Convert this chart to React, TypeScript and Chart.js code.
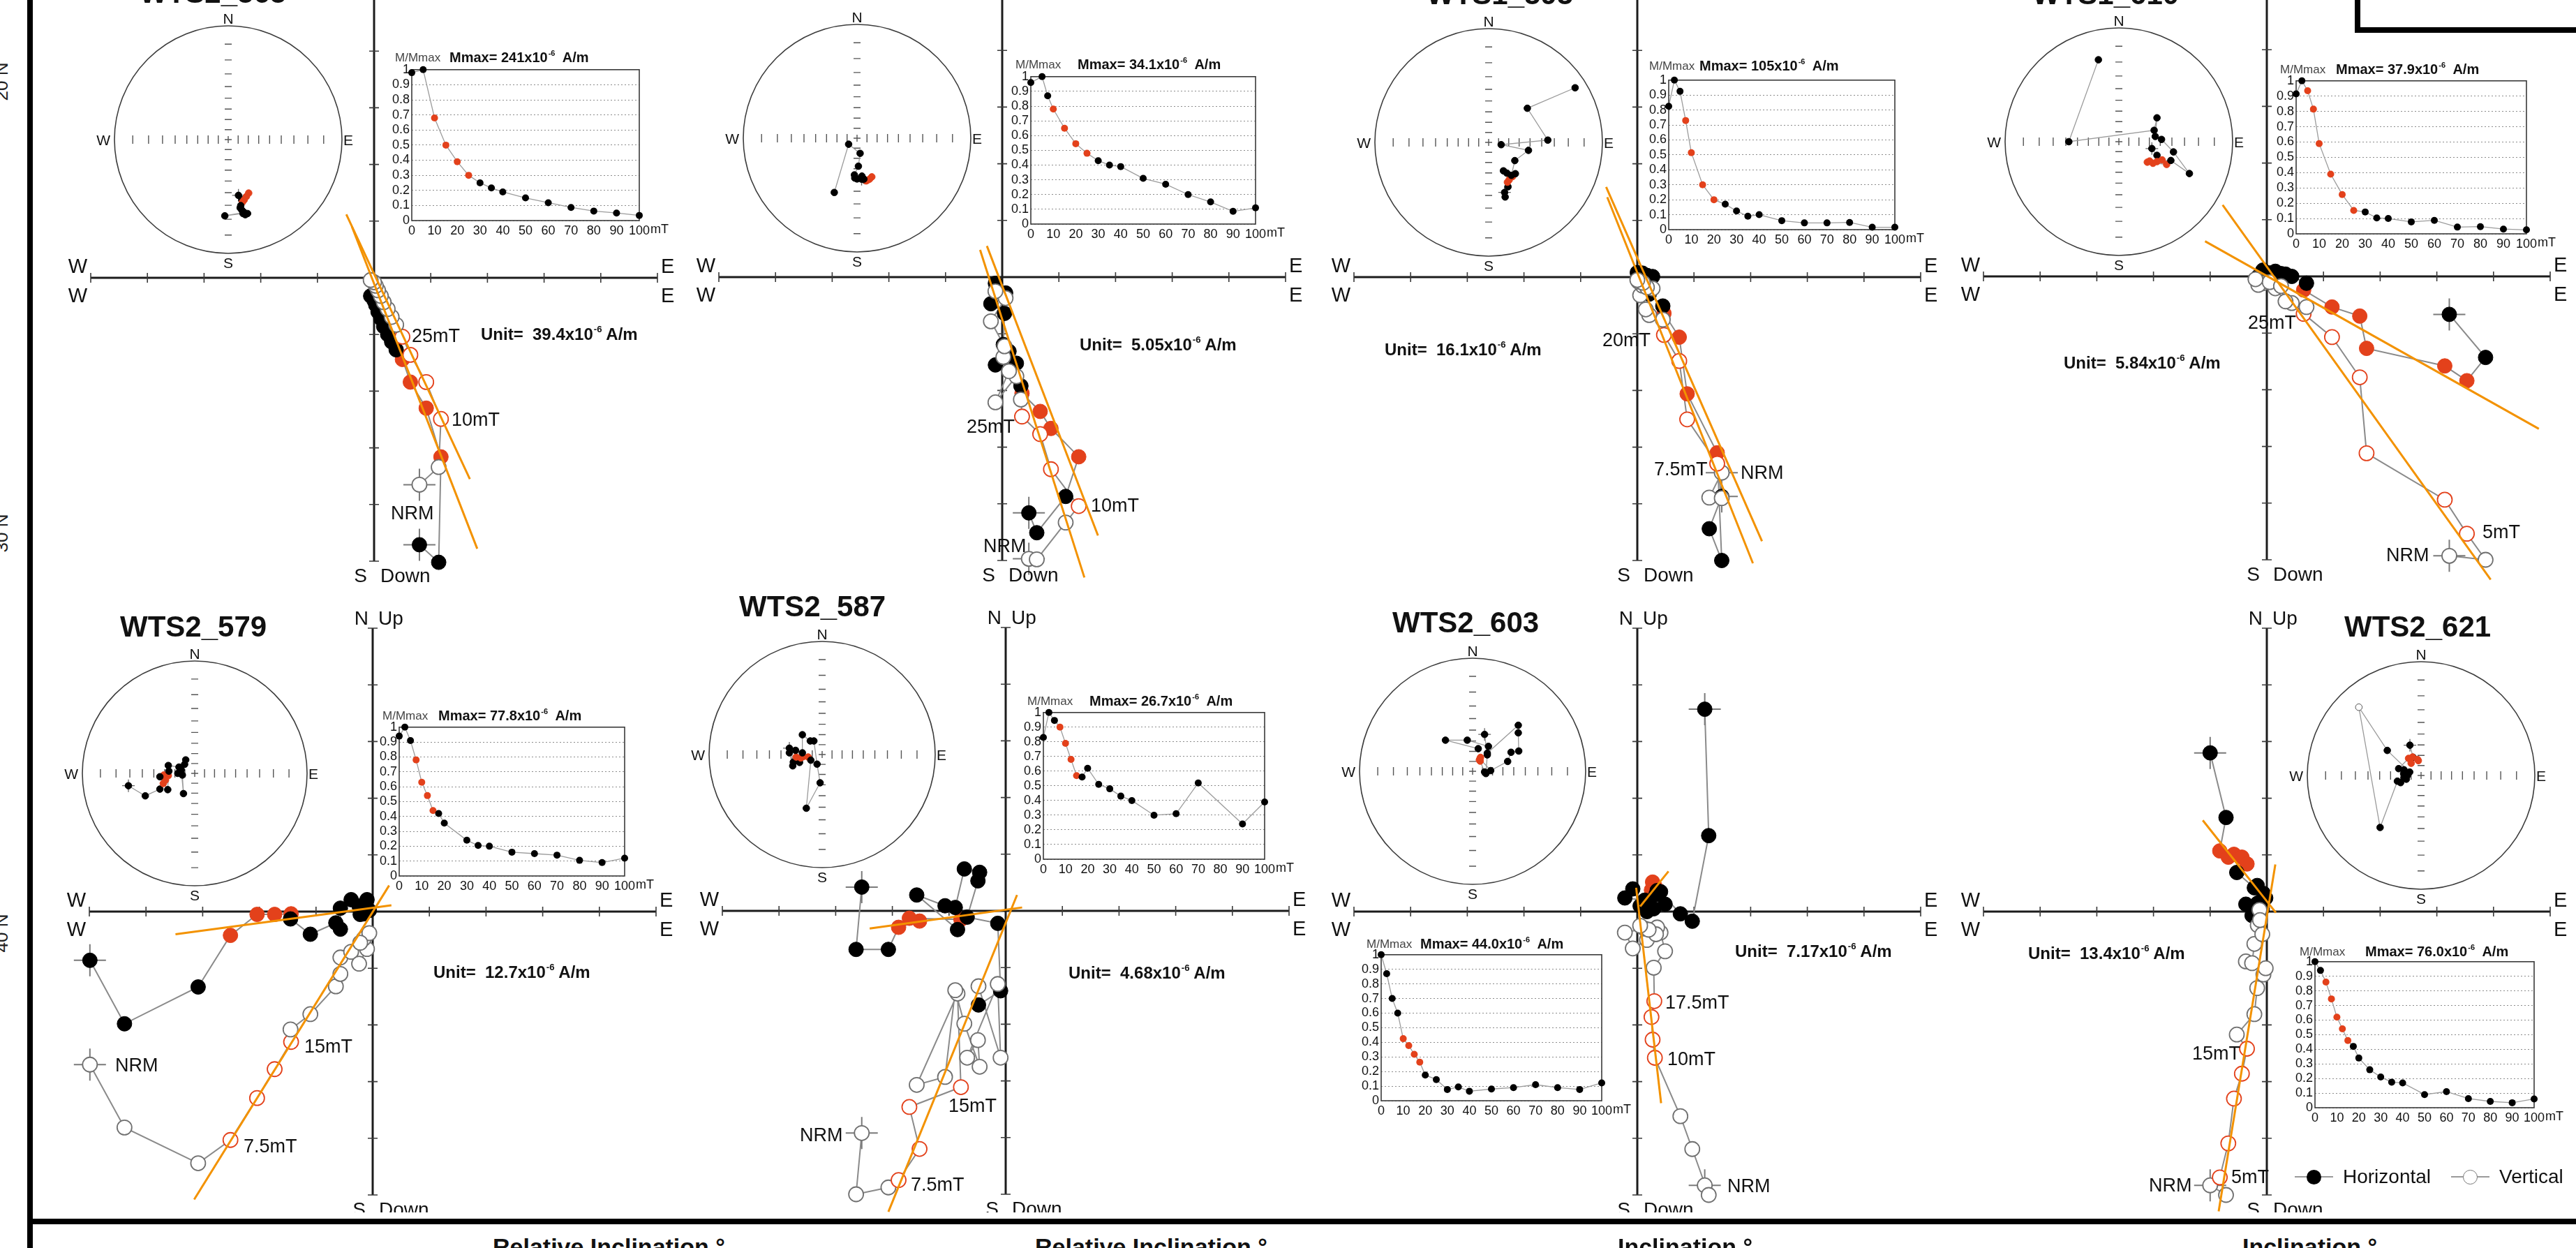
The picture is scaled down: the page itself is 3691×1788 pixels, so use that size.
import React, { useEffect, useRef } from "react";
import { Chart, registerables } from "chart.js";

Chart.register(...registerables);

const FONT = "'Liberation Sans', Arial, Helvetica, sans-serif";
const RED = "#e3411b";
const ORANGE = "#f39200";
const LINE_GRAY = "#8a8a8a";
const ZIJ_HALF = 406; // px from origin to the 5th tick mark
const ZIJ_PAD = 70;
const ST_PAD = 32;
const STEREO_TICK_INC = [80, 70, 60, 50, 40, 30, 20, 10];

/* ===================== top row, panel 1 ===================== */
const p1Steps = [0, 5, 10, 15, 20, 25, 30, 35, 40, 50, 60, 70, 80, 90, 100];
const p1Mnorm = [0.98, 1.0, 0.68, 0.5, 0.39, 0.3, 0.25, 0.216, 0.19, 0.15, 0.118, 0.087, 0.063, 0.05, 0.034];
const p1Fit = [10, 15, 20, 25];
const p1East = [0.8, 1.14, 1.18, 0.92, 0.64, 0.5, 0.39, 0.31, 0.24, 0.17, 0.12, 0.07, 0.03, 0.0, -0.06];
const p1North = [-4.71, -5.02, -3.16, -2.3, -1.84, -1.44, -1.27, -1.13, -1.0, -0.86, -0.72, -0.6, -0.48, -0.4, -0.32];
const p1Up = [-3.65, -3.34, -2.49, -1.84, -1.36, -1.04, -0.83, -0.69, -0.55, -0.43, -0.32, -0.22, -0.14, -0.08, -0.04];
const p1FitHx = [-0.39, 1.82];
const p1FitHy = [0.9, -4.78];
const p1FitVx = [-0.49, 1.69];
const p1FitVy = [1.12, -3.55];
const p1StX = [0.09, 0.12, 0.18, 0.16, 0.14, 0.125, 0.11, 0.105, 0.12, 0.14, 0.17, 0.15, 0.13, -0.03, 0.14];
const p1StY = [-0.49, -0.53, -0.47, -0.5, -0.53, -0.55, -0.58, -0.6, -0.62, -0.64, -0.65, -0.66, -0.65, -0.67, -0.64];

/* ===================== top row, panel 2 ===================== */
const p2Steps = [0, 5, 7.5, 10, 15, 20, 25, 30, 35, 40, 50, 60, 70, 80, 90, 100];
const p2Mnorm = [0.96, 1.0, 0.87, 0.78, 0.65, 0.545, 0.48, 0.43, 0.4, 0.39, 0.31, 0.27, 0.2, 0.15, 0.086, 0.11];
const p2Fit = [10, 15, 20, 25];
const p2East = [0.47, 0.61, 1.12, 1.35, 0.86, 0.67, 0.35, 0.33, 0.25, -0.12, 0.12, 0.02, 0.04, -0.2, 0.06, -0.12];
const p2North = [-4.16, -4.51, -3.87, -3.17, -2.67, -2.37, -2.05, -1.92, -1.52, -1.55, -1.31, -1.19, -0.64, -0.47, -0.28, -0.11];
const p2Up = [-4.97, -4.98, -4.33, -4.04, -3.39, -2.77, -2.46, -2.16, -1.75, -2.21, -1.66, -1.41, -1.22, -0.78, -0.37, -0.25];
const p2FitHx = [-0.27, 1.69];
const p2FitHy = [0.55, -4.56];
const p2FitVx = [-0.39, 1.45];
const p2FitVy = [0.48, -5.3];
const p2StX = [0.04, 0.05, 0.07, 0.13, 0.11, 0.08, 0.09, 0.06, 0.043, -0.02, 0.0, -0.023, 0.012, 0.027, -0.074, -0.2];
const p2StY = [-0.36, -0.35, -0.37, -0.34, -0.36, -0.375, -0.37, -0.36, -0.333, -0.35, -0.358, -0.323, -0.246, -0.133, -0.053, -0.477];

/* ===================== top row, panel 3 ===================== */
const p3Steps = [0, 2.5, 5, 7.5, 10, 15, 20, 25, 30, 35, 40, 50, 60, 70, 80, 90, 100];
const p3Mnorm = [0.825, 1.0, 0.925, 0.73, 0.515, 0.3, 0.2, 0.17, 0.125, 0.09, 0.1, 0.06, 0.045, 0.045, 0.048, 0.016, 0.016];
const p3Fit = [7.5, 10, 15, 20];
const p3East = [1.49, 1.27, 1.49, 1.41, 0.88, 0.74, 0.47, 0.45, 0.21, 0.15, 0.27, 0.05, 0.09, 0.17, 0.02, 0.1, 0.0];
const p3North = [-3.87, -4.44, -5.0, -3.1, -2.06, -1.06, -0.64, -0.51, -0.3, -0.25, 0.01, -0.05, 0.07, 0.03, 0.05, 0.02, 0.08];
const p3Up = [-3.45, -3.89, -3.9, -3.29, -2.51, -1.48, -1.02, -0.75, -0.67, -0.57, -0.2, -0.32, -0.15, -0.18, -0.08, -0.1, -0.05];
const p3FitHx = [-0.53, 2.04];
const p3FitHy = [1.41, -5.05];
const p3FitVx = [-0.55, 2.2];
const p3FitVy = [1.59, -4.66];
const p3StX = [0.14, 0.145, 0.17, 0.165, 0.18, 0.19, 0.21, 0.235, 0.16, 0.13, 0.2, 0.23, 0.35, 0.11, 0.52, 0.34, 0.76];
const p3StY = [-0.44, -0.48, -0.39, -0.35, -0.33, -0.31, -0.3, -0.275, -0.27, -0.25, -0.29, -0.16, -0.07, -0.02, 0.02, 0.3, 0.48];

/* ===================== top row, panel 4 ===================== */
const p4Steps = [0, 2.5, 5, 7.5, 10, 15, 20, 25, 30, 35, 40, 50, 60, 70, 80, 90, 100];
const p4Mnorm = [0.915, 1.0, 0.935, 0.815, 0.59, 0.39, 0.257, 0.153, 0.143, 0.104, 0.1, 0.078, 0.088, 0.044, 0.047, 0.031, 0.026];
const p4Fit = [5, 7.5, 10, 15, 20, 25];
const p4East = [3.22, 3.86, 3.53, 3.14, 1.76, 1.64, 1.15, 0.65, 0.7, 0.44, 0.33, 0.15, -0.07, -0.15, 0.05, 0.25, -0.2];
const p4North = [-0.67, -1.43, -1.84, -1.58, -1.27, -0.7, -0.54, -0.24, -0.12, 0.0, 0.04, 0.09, 0.11, 0.0, 0.06, 0.05, -0.05];
const p4Up = [-4.93, -5.0, -4.54, -3.94, -3.12, -1.78, -1.07, -0.66, -0.54, -0.47, -0.44, -0.21, -0.12, -0.15, -0.1, -0.17, -0.05];
const p4FitHx = [-1.09, 4.8];
const p4FitHy = [0.62, -2.69];
const p4FitVx = [-0.78, 3.95];
const p4FitVy = [1.26, -5.35];
const p4StX = [0.29, 0.335, 0.335, 0.38, 0.42, 0.25, 0.3, 0.27, 0.457, 0.62, 0.48, 0.375, 0.32, 0.335, 0.31, -0.44, -0.18];
const p4StY = [-0.06, -0.12, -0.175, -0.16, -0.2, -0.18, -0.19, -0.17, -0.165, -0.28, -0.09, 0.02, 0.046, 0.21, 0.1, 0.0, 0.72];

/* ===================== WTS2_579 ===================== */
const p5Steps = [0, 2.5, 5, 7.5, 10, 12.5, 15, 17.5, 20, 30, 35, 40, 50, 60, 70, 80, 90, 100];
const p5Mnorm = [0.94, 1.0, 0.91, 0.78, 0.63, 0.54, 0.44, 0.42, 0.355, 0.24, 0.205, 0.2, 0.16, 0.15, 0.14, 0.105, 0.09, 0.12];
const p5Fit = [7.5, 10, 12.5, 15];
const p5East = [-4.99, -4.38, -3.08, -2.51, -2.04, -1.73, -1.44, -1.45, -1.1, -0.65, -0.57, -0.57, -0.38, -0.24, -0.1, -0.16, -0.06, -0.22];
const p5North = [-0.86, -1.98, -1.33, -0.42, -0.05, -0.05, -0.04, -0.13, -0.4, -0.2, -0.31, 0.06, 0.21, 0.1, 0.21, -0.04, 0.02, -0.05];
const p5Up = [-2.7, -3.81, -4.44, -4.03, -3.29, -2.78, -2.3, -2.08, -1.81, -1.32, -1.1, -0.81, -0.71, -0.92, -0.66, -0.48, -0.38, -0.55];
const p5FitHx = [-3.48, 0.33];
const p5FitHy = [-0.4, 0.11];
const p5FitVx = [-3.15, 0.29];
const p5FitVy = [-5.08, 0.46];
const p5StX = [-0.59, -0.44, -0.31, -0.28, -0.26, -0.275, -0.235, -0.24, -0.31, -0.23, -0.235, -0.14, -0.08, -0.11, -0.1, -0.12, -0.09, -0.15];
const p5StY = [-0.11, -0.2, -0.14, -0.09, -0.06, -0.015, -0.02, -0.145, -0.03, 0.02, 0.07, 0.056, 0.12, -0.015, -0.18, 0.03, 0.08, 0.0];

/* ===================== WTS2_587 ===================== */
const p6Steps = [0, 2.5, 5, 7.5, 10, 12.5, 15, 17.5, 20, 25, 30, 35, 40, 50, 60, 70, 90, 100];
const p6Mnorm = [0.83, 1.0, 0.946, 0.9, 0.79, 0.68, 0.57, 0.56, 0.62, 0.51, 0.48, 0.43, 0.4, 0.3, 0.31, 0.52, 0.24, 0.39];
const p6Fit = [7.5, 10, 12.5, 15];
const p6East = [-2.54, -2.64, -2.07, -1.89, -1.52, -1.7, -0.79, -0.85, -1.57, -1.07, -0.89, -0.73, -0.46, -0.49, -0.68, -0.14, -0.09, -0.48];
const p6North = [0.42, -0.68, -0.68, -0.29, -0.18, -0.13, -0.15, -0.33, 0.28, 0.09, 0.06, 0.74, 0.68, 0.53, -0.11, -0.22, -1.41, -1.66];
const p6Up = [-3.92, -5.0, -4.88, -4.75, -4.2, -3.46, -3.11, -1.46, -3.07, -2.93, -1.4, -1.99, -2.75, -2.28, -2.59, -1.29, -2.59, -1.33];
const p6FitHx = [-2.4, 0.29];
const p6FitHy = [-0.31, 0.06];
const p6FitVx = [-2.07, 0.2];
const p6FitVy = [-5.31, 0.28];
const p6StX = [-0.29, -0.255, -0.2, -0.23, -0.19, -0.17, -0.124, -0.26, -0.29, -0.235, -0.175, -0.175, -0.105, -0.073, -0.045, -0.018, -0.14, -0.1];
const p6StY = [0.056, -0.067, -0.07, -0.022, -0.03, -0.02, -0.022, -0.1, 0.015, 0.037, 0.015, 0.175, 0.12, 0.12, -0.085, -0.25, -0.475, -0.05];

/* ===================== WTS2_603 ===================== */
const p7Steps = [0, 2.5, 5, 7.5, 10, 12.5, 15, 17.5, 20, 25, 30, 35, 40, 50, 60, 70, 80, 90, 100];
const p7Mnorm = [1.0, 0.87, 0.7, 0.6, 0.425, 0.378, 0.318, 0.264, 0.176, 0.145, 0.077, 0.094, 0.065, 0.08, 0.09, 0.11, 0.09, 0.077, 0.122];
const p7Fit = [10, 12.5, 15, 17.5];
const p7East = [1.19, 1.26, 0.97, 0.76, 0.31, 0.27, 0.25, 0.3, 0.29, 0.49, 0.41, 0.35, 0.17, -0.08, -0.22, 0.13, 0.33, 0.2, 0.05];
const p7North = [3.57, 1.34, -0.17, -0.04, 0.45, 0.52, 0.38, 0.32, 0.05, 0.13, 0.35, 0.37, 0.0, 0.4, 0.24, 0.2, 0.3, 0.15, 0.1];
const p7Up = [-4.83, -5.0, -4.19, -3.61, -2.58, -2.26, -1.86, -1.58, -0.99, -0.7, -0.37, -0.28, -0.5, -0.65, -0.37, -0.3, -0.4, -0.32, -0.25];
const p7FitHx = [0.05, 0.55];
const p7FitHy = [0.09, 0.71];
const p7FitVx = [-0.02, 0.42];
const p7FitVy = [0.42, -3.38];
const p7StX = [0.106, 0.13, 0.118, 0.106, 0.067, 0.07, 0.06, 0.065, 0.16, 0.31, 0.34, 0.408, 0.404, 0.404, 0.13, 0.14, -0.047, -0.24, 0.05];
const p7StY = [0.326, 0.145, -0.02, -0.006, 0.09, 0.123, 0.1, 0.11, 0.006, 0.087, 0.168, 0.179, 0.34, 0.407, 0.16, 0.22, 0.275, 0.275, 0.2];

/* ===================== WTS2_621 ===================== */
const p8Steps = [0, 2.5, 5, 7.5, 10, 12.5, 15, 17.5, 20, 25, 30, 35, 40, 50, 60, 70, 80, 90, 100];
const p8Mnorm = [1.0, 0.94, 0.86, 0.745, 0.62, 0.54, 0.46, 0.42, 0.34, 0.26, 0.21, 0.175, 0.17, 0.09, 0.11, 0.0625, 0.043, 0.034, 0.06];
const p8Fit = [5, 7.5, 10, 12.5, 15];
const p8East = [-1.0, -0.72, -0.83, -0.68, -0.58, -0.44, -0.35, -0.53, -0.22, -0.17, -0.06, -0.02, -0.37, -0.26, -0.22, -0.16, -0.13, -0.08, -0.12];
const p8North = [2.8, 1.66, 1.07, 0.96, 1.01, 0.96, 0.84, 0.69, 0.42, 0.46, 0.32, 0.24, 0.13, -0.07, 0.1, 0.15, 0.01, 0.05, -0.02];
const p8Up = [-4.83, -5.0, -4.69, -4.09, -3.3, -2.86, -2.42, -2.17, -1.81, -1.35, -1.11, -1.0, -0.88, -0.91, -0.57, -0.24, 0.03, -0.4, -0.15];
const p8FitHx = [-1.13, 0.16];
const p8FitHy = [1.61, -0.02];
const p8FitVx = [0.15, -0.85];
const p8FitVy = [0.83, -5.29];
const p8StX = [-0.098, -0.07, -0.087, -0.075, -0.03, -0.024, -0.11, -0.197, -0.153, -0.13, -0.18, -0.12, -0.15, -0.208, -0.36, -0.547, -0.297, -0.1, -0.15];
const p8StY = [0.266, 0.16, 0.107, 0.162, 0.14, 0.13, 0.15, 0.06, 0.015, -0.033, -0.063, 0.0, -0.02, -0.05, -0.457, 0.6, 0.22, 0.03, 0.05];
const p8StUpper = [70];

/* ===================== panel tables (data refs + layout) ===================== */
const PANELS: any[] = [
  {
    steps: p1Steps, mnorm: p1Mnorm, fit: p1Fit, east: p1East, north: p1North, up: p1Up,
    fitHx: p1FitHx, fitHy: p1FitHy, fitVx: p1FitVx, fitVy: p1FitVy, stX: p1StX, stY: p1StY, stUpper: [],
    title: "WTS2_565", mmax: "241", unit: "39.4",
    lay: { ox: 536, oy: 398, st: [327, 200, 163], box: [590, 98, 326, 218], titleXY: [200, -10], mm: [566, 644, 82], unitXY: [689, 479],
      notes: [["25mT", 590, 481], ["10mT", 647, 601], ["NRM", 560, 735]] },
  },
  {
    steps: p2Steps, mnorm: p2Mnorm, fit: p2Fit, east: p2East, north: p2North, up: p2Up,
    fitHx: p2FitHx, fitHy: p2FitHy, fitVx: p2FitVx, fitVy: p2FitVy, stX: p2StX, stY: p2StY, stUpper: [],
    title: "WTS2_571", mmax: "34.1", unit: "5.05",
    lay: { ox: 1436, oy: 397, st: [1228, 198, 163], box: [1477, 108, 322, 213], titleXY: [1105, -19], mm: [1455, 1544, 92], unitXY: [1547, 494],
      notes: [["25mT", 1385, 611], ["10mT", 1563, 724], ["NRM", 1409, 782]] },
  },
  {
    steps: p3Steps, mnorm: p3Mnorm, fit: p3Fit, east: p3East, north: p3North, up: p3Up,
    fitHx: p3FitHx, fitHy: p3FitHy, fitVx: p3FitVx, fitVy: p3FitVy, stX: p3StX, stY: p3StY, stUpper: [],
    title: "WTS1_595", mmax: "105", unit: "16.1",
    lay: { ox: 2346, oy: 397, st: [2133, 204, 163], box: [2391, 113, 324, 216], titleXY: [2044, -8], mm: [2363, 2435, 94], unitXY: [1984, 501],
      notes: [["20mT", 2296, 487], ["7.5mT", 2370, 672], ["NRM", 2494, 677]] },
  },
  {
    steps: p4Steps, mnorm: p4Mnorm, fit: p4Fit, east: p4East, north: p4North, up: p4Up,
    fitHx: p4FitHx, fitHy: p4FitHy, fitVx: p4FitVx, fitVy: p4FitVy, stX: p4StX, stY: p4StY, stUpper: [],
    title: "WTS1_610", mmax: "37.9", unit: "5.84",
    lay: { ox: 3248, oy: 396, st: [3036, 203, 163], box: [3290, 114, 330, 221], titleXY: [2912, -8], mm: [3267, 3347, 99], unitXY: [2957, 520],
      notes: [["25mT", 3221, 462], ["5mT", 3557, 762], ["NRM", 3419, 795]] },
  },
  {
    steps: p5Steps, mnorm: p5Mnorm, fit: p5Fit, east: p5East, north: p5North, up: p5Up,
    fitHx: p5FitHx, fitHy: p5FitHy, fitVx: p5FitVx, fitVy: p5FitVy, stX: p5StX, stY: p5StY, stUpper: [],
    title: "WTS2_579", mmax: "77.8", unit: "12.7",
    lay: { ox: 534, oy: 1306, st: [279, 1108, 161], box: [572, 1040, 323, 215], titleXY: [172, 898], mm: [548, 628, 1025], unitXY: [621, 1393],
      notes: [["NRM", 165, 1526], ["15mT", 436, 1499], ["7.5mT", 349, 1642]] },
  },
  {
    steps: p6Steps, mnorm: p6Mnorm, fit: p6Fit, east: p6East, north: p6North, up: p6Up,
    fitHx: p6FitHx, fitHy: p6FitHy, fitVx: p6FitVx, fitVy: p6FitVy, stX: p6StX, stY: p6StY, stUpper: [],
    title: "WTS2_587", mmax: "26.7", unit: "4.68",
    lay: { ox: 1441, oy: 1305, st: [1178, 1081, 162], box: [1495, 1019, 317, 212], titleXY: [1059, 869], mm: [1472, 1561, 1004], unitXY: [1531, 1394],
      notes: [["15mT", 1359, 1584], ["7.5mT", 1305, 1697], ["NRM", 1146, 1626]] },
  },
  {
    steps: p7Steps, mnorm: p7Mnorm, fit: p7Fit, east: p7East, north: p7North, up: p7Up,
    fitHx: p7FitHx, fitHy: p7FitHy, fitVx: p7FitVx, fitVy: p7FitVy, stX: p7StX, stY: p7StY, stUpper: [],
    title: "WTS2_603", mmax: "44.0", unit: "7.17",
    lay: { ox: 2346, oy: 1306, st: [2110, 1105, 162], box: [1979, 1366, 316, 211], titleXY: [1995, 892], mm: [1958, 2035, 1352], unitXY: [2486, 1363],
      notes: [["17.5mT", 2386, 1436], ["10mT", 2389, 1517], ["NRM", 2475, 1699]] },
  },
  {
    steps: p8Steps, mnorm: p8Mnorm, fit: p8Fit, east: p8East, north: p8North, up: p8Up,
    fitHx: p8FitHx, fitHy: p8FitHy, fitVx: p8FitVx, fitVy: p8FitVy, stX: p8StX, stY: p8StY, stUpper: p8StUpper,
    title: "WTS2_621", mmax: "76.0", unit: "13.4",
    lay: { ox: 3248, oy: 1306, st: [3469, 1111, 163], box: [3317, 1376, 314, 211], titleXY: [3359, 898], mm: [3295, 3389, 1363], unitXY: [2906, 1366],
      notes: [["15mT", 3141, 1509], ["5mT", 3197, 1686], ["NRM", 3079, 1698]] },
  },
];

/* ===================== chart builders ===================== */
const baseOpts = (pad: number, min: number, max: number): any => ({
  responsive: false,
  maintainAspectRatio: false,
  animation: false,
  devicePixelRatio: 1,
  events: [],
  layout: { padding: pad },
  plugins: { legend: { display: false }, tooltip: { enabled: false }, colors: { enabled: false } },
  scales: {
    x: { type: "linear", min, max, display: false },
    y: { type: "linear", min, max, display: false },
  },
});

const zijAxes = {
  id: "zijAxes",
  beforeDatasetsDraw(chart: any) {
    const { ctx, scales } = chart;
    const x = scales.x, y = scales.y;
    const x0 = x.getPixelForValue(0), y0 = y.getPixelForValue(0);
    ctx.save();
    ctx.strokeStyle = "#1c1c1c";
    ctx.lineWidth = 3;
    ctx.beginPath();
    ctx.moveTo(x.getPixelForValue(-5), y0);
    ctx.lineTo(x.getPixelForValue(5), y0);
    ctx.moveTo(x0, y.getPixelForValue(5));
    ctx.lineTo(x0, y.getPixelForValue(-5));
    ctx.stroke();
    ctx.strokeStyle = "#3a3a3a";
    ctx.lineWidth = 1.6;
    ctx.beginPath();
    for (let k = -5; k <= 5; k++) {
      if (k === 0) continue;
      const px = x.getPixelForValue(k);
      ctx.moveTo(px, y0 - 7);
      ctx.lineTo(px, y0 + 7);
      const py = y.getPixelForValue(k);
      ctx.moveTo(x0 - 7, py);
      ctx.lineTo(x0 + 7, py);
    }
    ctx.stroke();
    ctx.restore();
  },
};

const stereoFrame = {
  id: "stereoFrame",
  beforeDatasetsDraw(chart: any) {
    const { ctx, scales } = chart;
    const x = scales.x, y = scales.y;
    const cx = x.getPixelForValue(0), cy = y.getPixelForValue(0);
    const r = x.getPixelForValue(1) - cx;
    ctx.save();
    ctx.strokeStyle = "#3c3c3c";
    ctx.lineWidth = 1.6;
    ctx.beginPath();
    ctx.arc(cx, cy, r, 0, Math.PI * 2);
    ctx.stroke();
    ctx.strokeStyle = "#555";
    ctx.lineWidth = 1.4;
    ctx.beginPath();
    STEREO_TICK_INC.forEach((inc) => {
      const t = Math.tan(((90 - inc) / 2) * (Math.PI / 180));
      [-1, 1].forEach((s) => {
        const px = x.getPixelForValue(s * t);
        ctx.moveTo(px, cy - 6);
        ctx.lineTo(px, cy + 6);
        const py = y.getPixelForValue(s * t);
        ctx.moveTo(cx - 5, py);
        ctx.lineTo(cx + 5, py);
      });
    });
    ctx.moveTo(cx - 5, cy);
    ctx.lineTo(cx + 5, cy);
    ctx.moveTo(cx, cy - 5);
    ctx.lineTo(cx, cy + 5);
    ctx.stroke();
    ctx.restore();
  },
};

const DEMAG_TICK_SIZE = 18;

const demagFrame = {
  id: "demagFrame",
  beforeDatasetsDraw(chart: any) {
    const { ctx, chartArea: a } = chart;
    ctx.save();
    ctx.strokeStyle = "#3a3a3a";
    ctx.lineWidth = 1.6;
    ctx.strokeRect(a.left, a.top, a.right - a.left, a.bottom - a.top);
    ctx.restore();
  },
  afterDraw(chart: any) {
    const { ctx, chartArea: a, scales } = chart;
    ctx.save();
    ctx.font = `${DEMAG_TICK_SIZE}px ${FONT}`;
    ctx.fillStyle = "#111";
    ctx.textBaseline = "top";
    ctx.textAlign = "left";
    const px = scales.x.getPixelForValue(100) + ctx.measureText("100").width / 2 + 1;
    ctx.fillText("mT", px, a.bottom + 4);
    ctx.restore();
  },
};

function makeZij(canvas: HTMLCanvasElement, p: any) {
  const isFit = (i: number) => p.fit.includes(p.steps[i]);
  const hor = p.east.map((e: number, i: number) => ({ x: e, y: p.north[i] }));
  const ver = p.east.map((e: number, i: number) => ({ x: e, y: p.up[i] }));
  const fillCol = hor.map((_: any, i: number) => (isFit(i) ? RED : "#000"));
  const openCol = ver.map((_: any, i: number) => (isFit(i) ? RED : "#707070"));
  const seg = (xs: number[], ys: number[]) => xs.map((x, i) => ({ x, y: ys[i] }));
  return new Chart(canvas, {
    type: "scatter",
    data: {
      datasets: [
        { data: seg(p.fitHx, p.fitHy), showLine: true, borderColor: ORANGE, borderWidth: 3, pointRadius: 0, order: 0, clip: false },
        { data: seg(p.fitVx, p.fitVy), showLine: true, borderColor: ORANGE, borderWidth: 3, pointRadius: 0, order: 0, clip: false },
        { data: ver, pointRadius: 10.5, pointBackgroundColor: "#fff", pointBorderColor: openCol, pointBorderWidth: 1.8, order: 1, clip: false },
        { data: hor, pointRadius: 10.5, pointBackgroundColor: fillCol, pointBorderColor: fillCol, pointBorderWidth: 1, order: 2, clip: false },
        { data: [hor[0], ver[0]], pointStyle: "cross", pointRadius: 23, pointBorderColor: "#7a7a7a", pointBorderWidth: 2, order: 3, clip: false },
        { data: hor, showLine: true, borderColor: LINE_GRAY, borderWidth: 2, pointRadius: 0, order: 4, clip: false },
        { data: ver, showLine: true, borderColor: LINE_GRAY, borderWidth: 2, pointRadius: 0, order: 4, clip: false },
      ],
    } as any,
    options: baseOpts(ZIJ_PAD, -5, 5),
    plugins: [zijAxes],
  } as any);
}

function makeStereo(canvas: HTMLCanvasElement, p: any) {
  const pts = p.stX.map((x: number, i: number) => ({ x, y: p.stY[i] }));
  const isFit = (i: number) => p.fit.includes(p.steps[i]);
  const isUpper = (i: number) => p.stUpper.includes(p.steps[i]);
  const fill = pts.map((_: any, i: number) => (isUpper(i) ? "#fff" : isFit(i) ? RED : "#000"));
  const border = pts.map((_: any, i: number) => (isUpper(i) ? "#555" : isFit(i) ? RED : "#000"));
  return new Chart(canvas, {
    type: "scatter",
    data: {
      datasets: [
        { data: pts, pointRadius: 4.8, pointBackgroundColor: fill, pointBorderColor: border, pointBorderWidth: 1, order: 0, clip: false },
        { data: [pts[0]], pointStyle: "cross", pointRadius: 9, pointBorderColor: "#666", pointBorderWidth: 1.3, order: 1, clip: false },
        { data: pts, showLine: true, borderColor: "#9a9a9a", borderWidth: 1.3, pointRadius: 0, order: 2, clip: false },
      ],
    } as any,
    options: baseOpts(ST_PAD, -1, 1),
    plugins: [stereoFrame],
  } as any);
}

function makeDemag(canvas: HTMLCanvasElement, p: any) {
  const pts = p.steps.map((s: number, i: number) => ({ x: s, y: p.mnorm[i] }));
  const col = p.steps.map((s: number) => (p.fit.includes(s) ? RED : "#000"));
  const tickFont = { family: FONT, size: DEMAG_TICK_SIZE };
  return new Chart(canvas, {
    type: "scatter",
    data: {
      datasets: [
        { data: pts, showLine: true, borderColor: "#9c9c9c", borderWidth: 1.3, pointRadius: 5, pointBackgroundColor: col, pointBorderColor: col, pointBorderWidth: 0, clip: false },
      ],
    } as any,
    options: {
      responsive: false,
      maintainAspectRatio: false,
      animation: false,
      devicePixelRatio: 1,
      events: [],
      layout: { padding: { left: 4, top: 12, right: 50, bottom: 0 } },
      plugins: { legend: { display: false }, tooltip: { enabled: false }, colors: { enabled: false } },
      scales: {
        x: {
          type: "linear", min: 0, max: 100,
          afterFit: (s: any) => { s.height = 30; },
          ticks: { stepSize: 10, autoSkip: false, maxRotation: 0, padding: 4, color: "#111", font: tickFont },
          grid: { display: false, drawTicks: false },
          border: { display: false },
        },
        y: {
          type: "linear", min: 0, max: 1,
          afterFit: (s: any) => { s.width = 40; },
          ticks: {
            stepSize: 0.1, autoSkip: false, padding: 3, color: "#111", font: tickFont,
            callback: (v: any) => (Math.abs(v) < 1e-9 ? "0" : Math.abs(v - 1) < 1e-9 ? "1" : Number(v).toFixed(1)),
          },
          grid: { color: "#8c8c8c", lineWidth: 1, drawTicks: false },
          border: { display: false, dash: [2, 3] },
        },
      },
    } as any,
    plugins: [demagFrame],
  } as any);
}

/* ===================== React pieces ===================== */
function ChartBox({ left, top, width, height, make }: any) {
  const ref = useRef<HTMLCanvasElement>(null);
  useEffect(() => {
    const chart = make(ref.current as HTMLCanvasElement);
    return () => chart.destroy();
  }, []);
  return <canvas ref={ref} width={width} height={height} style={{ position: "absolute", left, top, width, height }} />;
}

function Txt({ x, y, children, size = 28, bold = false, align = "left", color = "#111" }: any) {
  const tx = align === "left" ? "0" : align === "right" ? "-100%" : "-50%";
  return (
    <div
      style={{
        position: "absolute", left: x, top: y, transform: `translate(${tx}, -50%)`,
        fontFamily: FONT, fontSize: size, fontWeight: bold ? 700 : 400, lineHeight: 1,
        whiteSpace: "nowrap", color,
      }}
    >
      {children}
    </div>
  );
}

function Sup({ children }: any) {
  return <span style={{ fontSize: "0.55em", position: "relative", top: "-0.8em", marginLeft: 1 }}>{children}</span>;
}

function PanelView({ p }: any) {
  const L = p.lay;
  const zs = 2 * (ZIJ_HALF + ZIJ_PAD);
  const [sx, sy, sr] = L.st;
  const [bx, by, bw, bh] = L.box;
  const axL = L.ox - ZIJ_HALF, axR = L.ox + ZIJ_HALF, axT = L.oy - ZIJ_HALF, axB = L.oy + ZIJ_HALF;
  return (
    <>
      <ChartBox left={L.ox - ZIJ_HALF - ZIJ_PAD} top={L.oy - ZIJ_HALF - ZIJ_PAD} width={zs} height={zs} make={(c: any) => makeZij(c, p)} />
      <ChartBox left={sx - sr - ST_PAD} top={sy - sr - ST_PAD} width={2 * (sr + ST_PAD)} height={2 * (sr + ST_PAD)} make={(c: any) => makeStereo(c, p)} />
      <ChartBox left={bx - 44} top={by - 12} width={bw + 94} height={bh + 42} make={(c: any) => makeDemag(c, p)} />

      <Txt x={axL - 5} y={L.oy - 17} align="right" size={29}>W</Txt>
      <Txt x={axL - 5} y={L.oy + 25} align="right" size={29}>W</Txt>
      <Txt x={axR + 5} y={L.oy - 17} size={29}>E</Txt>
      <Txt x={axR + 5} y={L.oy + 25} size={29}>E</Txt>
      <Txt x={L.ox - 6} y={axT - 14} align="right">N</Txt>
      <Txt x={L.ox + 8} y={axT - 14}>Up</Txt>
      <Txt x={L.ox - 10} y={axB + 21} align="right">S</Txt>
      <Txt x={L.ox + 9} y={axB + 21}>Down</Txt>

      <Txt x={sx} y={sy - sr - 11} align="center" size={21}>N</Txt>
      <Txt x={sx} y={sy + sr + 13} align="center" size={21}>S</Txt>
      <Txt x={sx - sr - 6} y={sy} align="right" size={21}>W</Txt>
      <Txt x={sx + sr + 2} y={sy} size={21}>E</Txt>

      <Txt x={L.mm[0]} y={L.mm[2]} size={17} color="#444">M/Mmax</Txt>
      <Txt x={L.mm[1]} y={L.mm[2]} size={20} bold>
        Mmax= {p.mmax}x10<Sup>-6</Sup>&nbsp; A/m
      </Txt>
      <Txt x={L.unitXY[0]} y={L.unitXY[1]} size={24} bold>
        Unit=&nbsp; {p.unit}x10<Sup>-6</Sup> A/m
      </Txt>
      <Txt x={L.titleXY[0]} y={L.titleXY[1]} size={42} bold>{p.title}</Txt>
      {L.notes.map((n: any, i: number) => (
        <Txt key={i} x={n[1]} y={n[2]} size={27}>{n[0]}</Txt>
      ))}
    </>
  );
}

function Legend() {
  const lineStyle = (l: number) => ({ position: "absolute" as const, left: l, top: 1685, width: 55, height: 2, background: "#9a9a9a" });
  return (
    <>
      <div style={lineStyle(3288)} />
      <div style={{ position: "absolute", left: 3305, top: 1676, width: 21, height: 21, borderRadius: "50%", background: "#000" }} />
      <Txt x={3357} y={1686} size={28}>Horizontal</Txt>
      <div style={lineStyle(3512)} />
      <div style={{ position: "absolute", left: 3529, top: 1676, width: 21, height: 21, borderRadius: "50%", background: "#fff", border: "1.6px solid #777", boxSizing: "border-box" }} />
      <Txt x={3581} y={1686} size={28}>Vertical</Txt>
    </>
  );
}

const SIDE_LABELS = [["20 N", 117], ["30 N", 764], ["40 N", 1337]];
const BOTTOM_LABELS = [["Relative Inclination °", 706], ["Relative Inclination °", 1483], ["Inclination °", 2318], ["Inclination °", 3213]];

export default function App() {
  return (
    <div style={{ position: "absolute", left: 0, top: 0, width: 3691, height: 1788, overflow: "hidden", background: "#fff", fontFamily: FONT }}>
      <div style={{ position: "absolute", left: 0, top: 0, width: 3691, height: 1737, overflow: "hidden" }}>
        {PANELS.map((p, i) => (
          <PanelView key={i} p={p} />
        ))}
        <Legend />
        <div style={{ position: "absolute", left: 3374, top: -20, width: 400, height: 67, border: "8px solid #000", boxSizing: "border-box", background: "#fff" }} />
      </div>
      <div style={{ position: "absolute", left: 39, top: 0, width: 8, height: 1788, background: "#000" }} />
      <div style={{ position: "absolute", left: 39, top: 1746, width: 3652, height: 8, background: "#000" }} />
      {SIDE_LABELS.map(([t, y]: any, i) => (
        <div key={i} style={{ position: "absolute", left: 2, top: y, transform: "translate(-50%, -50%) rotate(-90deg)", fontFamily: FONT, fontSize: 26, whiteSpace: "nowrap", color: "#222", lineHeight: 1 }}>
          {t}
        </div>
      ))}
      {BOTTOM_LABELS.map(([t, x]: any, i) => (
        <div key={i} style={{ position: "absolute", left: x, top: 1769, fontFamily: FONT, fontSize: 34, fontWeight: 700, whiteSpace: "nowrap", color: "#111", lineHeight: 1 }}>
          {t}
        </div>
      ))}
    </div>
  );
}
